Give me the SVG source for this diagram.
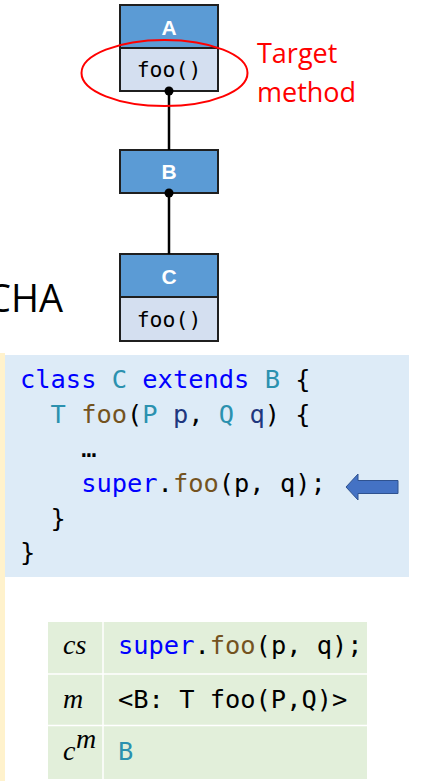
<svg xmlns="http://www.w3.org/2000/svg" width="423" height="781" viewBox="0 0 423 781">
<style>
.hdr{fill:#5B9BD5;stroke:#1F1F1F;stroke-width:2}
.mth{fill:#D4DFF0;stroke:#1F1F1F;stroke-width:2}
.lbl{font-family:"Liberation Sans",Arial,sans-serif;font-weight:bold;font-size:21px;fill:#FFFFFF;text-anchor:middle}
.mono{font-family:"DejaVu Sans Mono","Liberation Mono",monospace;fill:#000000}
.code{font-size:25.4px}
.foo{font-size:21.5px;text-anchor:middle}
.kw{fill:#0000FF}
.ty{fill:#2B91AF}
.fn{fill:#74531F}
.pa{fill:#1F377F}
.math{font-family:"Liberation Serif","Times New Roman",serif;font-style:italic;font-size:28px;fill:#000000}
.edge{stroke:#000000;stroke-width:2.5;fill:none}
</style>
<rect x="0" y="0" width="423" height="781" fill="#FFFFFF"/>
<rect x="0" y="353" width="5" height="428" fill="#FFF2CC"/>
<text x="63" y="312" font-family="'Open Sans','Liberation Sans',sans-serif" font-size="38" text-anchor="end" fill="#000000">CHA</text>
<g id="nodeA">
<rect class="hdr" x="120" y="5" width="98" height="43"/>
<rect class="mth" x="120" y="48" width="98" height="43"/>
<text class="lbl" x="169" y="35">A</text>
<text class="mono foo" x="169" y="77">foo()</text>
</g>
<g id="nodeB">
<rect class="hdr" x="120" y="150" width="98" height="43"/>
<text class="lbl" x="169" y="179">B</text>
</g>
<g id="nodeC">
<rect class="hdr" x="120" y="254" width="98" height="43"/>
<rect class="mth" x="120" y="297" width="98" height="44"/>
<text class="lbl" x="169" y="284">C</text>
<text class="mono foo" x="169" y="327">foo()</text>
</g>
<g id="connectors">
<line class="edge" x1="169" y1="91" x2="169" y2="150"/>
<line class="edge" x1="169" y1="193" x2="169" y2="254"/>
<circle cx="169" cy="91" r="4.5" fill="#000000"/>
<circle cx="169" cy="193" r="4.5" fill="#000000"/>
</g>
<g id="target">
<ellipse cx="164.5" cy="73" rx="83" ry="33" fill="none" stroke="#FF0000" stroke-width="2"/>
<text x="257" y="63" font-family="'Open Sans','Liberation Sans',sans-serif" font-size="27" fill="#FF0000">Target</text>
<text x="257" y="102" font-family="'Open Sans','Liberation Sans',sans-serif" font-size="27" fill="#FF0000">method</text>
</g>
<g id="code">
<rect x="5" y="355" width="404" height="222" fill="#DDEBF7"/>
<text class="mono code" x="20" y="388" xml:space="preserve"><tspan class="kw">class</tspan> <tspan class="ty">C</tspan> <tspan class="kw">extends</tspan> <tspan class="ty">B</tspan> {</text>
<text class="mono code" x="20" y="423" xml:space="preserve">  <tspan class="ty">T</tspan> <tspan class="fn">foo</tspan>(<tspan class="ty">P</tspan> <tspan class="pa">p</tspan>, <tspan class="ty">Q</tspan> <tspan class="pa">q</tspan>) {</text>
<text class="mono code" x="20" y="457" xml:space="preserve">    …</text>
<text class="mono code" x="20" y="492" xml:space="preserve">    <tspan class="kw">super</tspan>.<tspan class="fn">foo</tspan>(p, q);</text>
<text class="mono code" x="20" y="527" xml:space="preserve">  }</text>
<text class="mono code" x="20" y="561" xml:space="preserve">}</text>
<polygon points="346,487 358,474 358,480.5 398,480.5 398,493.5 358,493.5 358,500" fill="#4472C4" stroke="#2F528F" stroke-width="1"/>
</g>
<g id="table">
<rect x="48" y="622" width="319" height="157" fill="#E2EFDA"/>
<line x1="48" y1="674" x2="367" y2="674" stroke="#FFFFFF" stroke-width="1.5"/>
<line x1="48" y1="725.5" x2="367" y2="725.5" stroke="#FFFFFF" stroke-width="1.5"/>
<line x1="103" y1="622" x2="103" y2="779" stroke="#FFFFFF" stroke-width="1.5"/>
<text class="math" x="63" y="654">cs</text>
<text class="math" x="63" y="708">m</text>
<text class="math" x="63" y="760">c</text>
<text class="math" x="76" y="748" font-size="20">m</text>
<text class="mono code" x="118" y="654" xml:space="preserve"><tspan class="kw">super</tspan>.<tspan class="fn">foo</tspan>(p, q);</text>
<text class="mono code" x="118" y="708">&lt;B: T foo(P,Q)&gt;</text>
<text class="mono code ty" x="118" y="760">B</text>
</g>
</svg>
